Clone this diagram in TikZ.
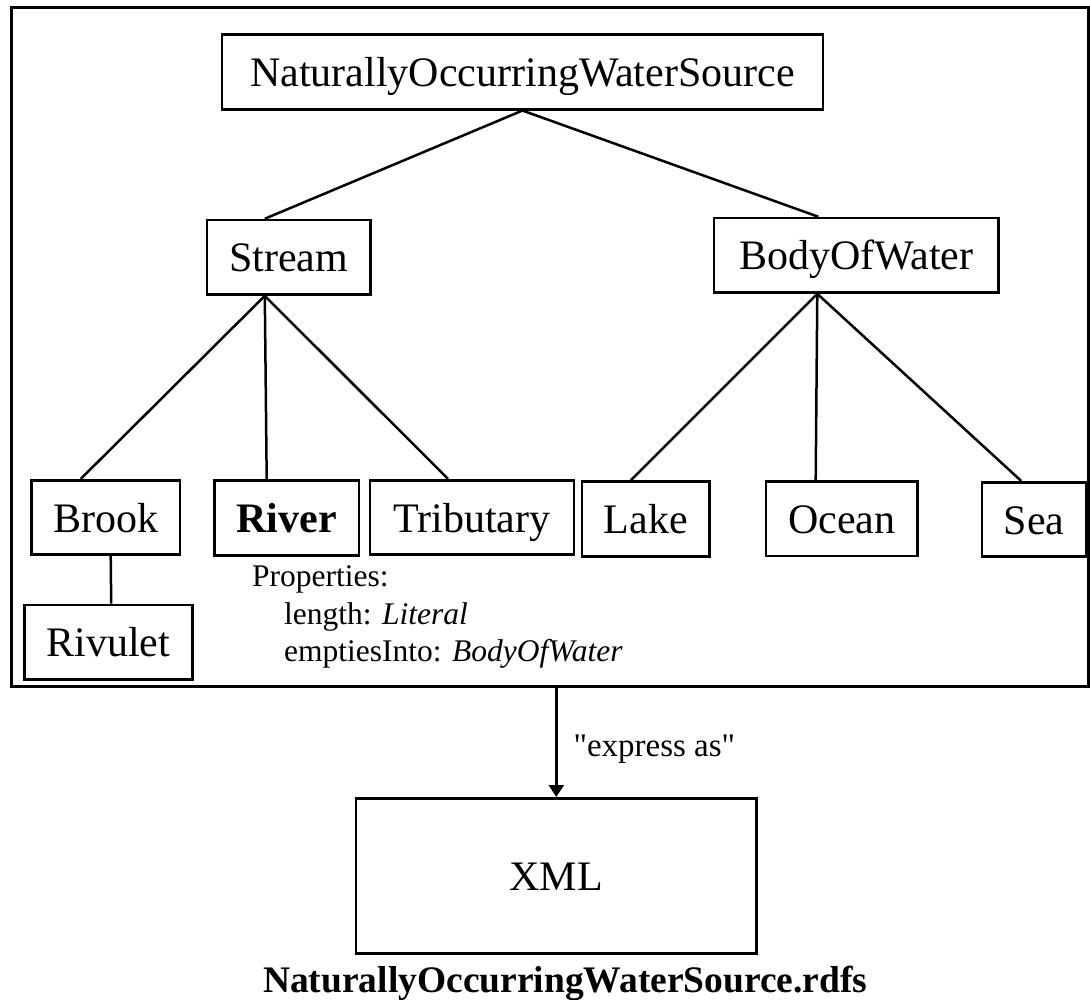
\documentclass[tikz,border=0pt]{standalone}
\usepackage{fontspec}
\setmainfont{Liberation Serif}[Ligatures=TeXOff]
\usepackage{tikz}
\usetikzlibrary{arrows.meta, positioning}

\begin{document}
\begin{tikzpicture}[
        x=1pt, y=-1pt,
        cls/.style={
            rectangle,
            draw=black,
            line width=2.6pt,
            inner sep=0pt,
            minimum height=74.5pt,
            text height=29pt,
            text depth=0pt,
            font=\fontsize{42}{50}\selectfont
        },
        frame/.style={
            rectangle,
            draw=black,
            line width=3pt,
            inner sep=0pt
        },
        link/.style={
            line width=2.5pt,
            draw=black
        },
        arrow/.style={
            -{Triangle[length=12pt, width=15pt]},
            line width=2.5pt,
            draw=black
        },
        props/.style={
            inner sep=0pt,
            align=left,
            font=\fontsize{31.5}{37.5}\selectfont
        },
        note/.style={
            inner sep=0pt,
            font=\fontsize{33}{40}\selectfont
        }
    ]
        \useasboundingbox (0,0) rectangle (1090,1000);

        % Nodes
        \node[frame, minimum width=1077.5pt, minimum height=679.4pt] (model) at (549.75, 347) {};
        \node[cls, minimum width=601pt] (nows) at (522.5, 72) {NaturallyOccurringWaterSource};
        \node[cls, minimum width=163.3pt] (stream) at (288.8, 257.3) {Stream};
        \node[cls, minimum width=284.6pt] (body) at (856.3, 255.3) {BodyOfWater};
        \node[cls, minimum width=148.6pt] (brook) at (105.7, 517.5) {Brook};
        \node[cls, minimum width=144.7pt] (river) at (286.7, 518) {\textbf{River}};
        \node[cls, minimum width=204pt] (trib) at (472, 517.5) {Tributary};
        \node[cls, minimum width=127.4pt] (lake) at (645.7, 519) {Lake};
        \node[cls, minimum width=151.3pt] (ocean) at (841.7, 518.7) {Ocean};
        \node[cls, minimum width=104.4pt] (sea) at (1034.2, 519.5) {Sea};
        \node[cls, minimum width=168pt] (rivulet) at (108.2, 642.2) {Rivulet};
        \node[props, anchor=base west] (riverprops) at (252, 661.7)
            {Properties:\\\hspace*{32pt}length: \textit{Literal}\\\hspace*{32pt}emptiesInto: \textit{BodyOfWater}};
        \node[cls, minimum width=400.7pt, minimum height=155pt] (xml) at (556.3, 875.8) {XML};
        \node[inner sep=0pt, font=\fontsize{37.5}{45}\selectfont\bfseries, below=11pt of xml, xshift=9pt] (rdfs)
            {NaturallyOccurringWaterSource.rdfs};

        % Paths
        \draw[link] (nows.south) -- ([xshift=-24pt]stream.north);
        \draw[link] (nows.south) -- ([xshift=-38pt]body.north);
        \draw[link] ([xshift=-24pt]stream.south) -- ([xshift=-25pt]brook.north);
        \draw[link] ([xshift=-24pt]stream.south) -- ([xshift=-20pt]river.north);
        \draw[link] ([xshift=-24pt]stream.south) -- ([xshift=-24pt]trib.north);
        \draw[link] ([xshift=-39pt]body.south) -- ([xshift=-15pt]lake.north);
        \draw[link] ([xshift=-39pt]body.south) -- ([xshift=-26pt]ocean.north);
        \draw[link] ([xshift=-39pt]body.south) -- ([xshift=-13pt]sea.north);
        \draw[link] ([xshift=5pt]brook.south) -- ([xshift=3pt]rivulet.north);
        \draw[arrow] (model.south -| xml.north) -- node[note, pos=0.56, right=16pt] (express) {"express as"} (xml.north);
    \end{tikzpicture}
\end{document}
